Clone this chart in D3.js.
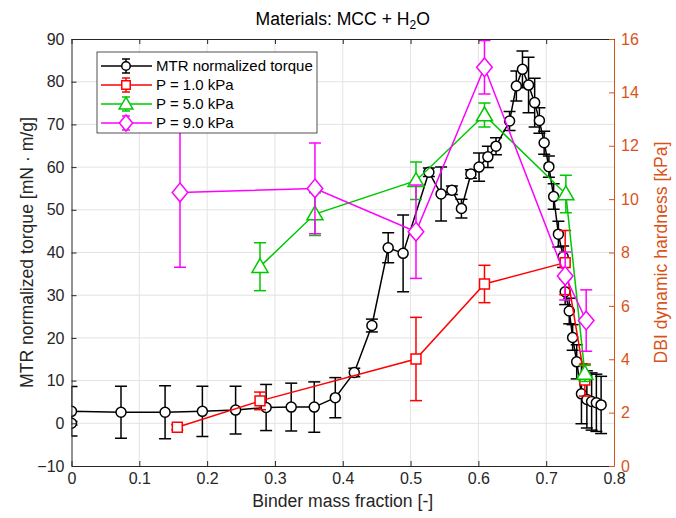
<!DOCTYPE html>
<html>
<head>
<meta charset="utf-8">
<script src="https://cdn.jsdelivr.net/npm/d3@7"></script>
<style>
  html, body { margin: 0; padding: 0; background: #fff; }
  svg { display: block; font-family: "Liberation Sans", Arial, Helvetica, sans-serif; }
</style>
</head>
<body>
<svg id="chart" width="676" height="518"></svg>
<script>
// ---------------- DATA ----------------
const xTicks = [0, 0.1, 0.2, 0.3, 0.4, 0.5, 0.6, 0.7, 0.8];
const leftTicks = [-10, 0, 10, 20, 30, 40, 50, 60, 70, 80, 90];
const rightTicks = [0, 2, 4, 6, 8, 10, 12, 14, 16];

const mtrX = [0, 0, 0.073, 0.138, 0.193, 0.242, 0.287, 0.324, 0.358, 0.389, 0.417, 0.443, 0.467, 0.489,
  0.527, 0.545, 0.561, 0.575, 0.589, 0.601, 0.614, 0.626, 0.646, 0.656, 0.665, 0.674, 0.683, 0.690,
  0.697, 0.704, 0.711, 0.718, 0.725, 0.728, 0.734, 0.739, 0.745, 0.752, 0.760, 0.767, 0.774, 0.781];
const mtrY = [0, 2.8, 2.6, 2.6, 2.8, 3.1, 3.7, 3.8, 3.8, 6.0, 11.9, 22.9, 41.1, 39.8,
  58.8, 53.7, 54.6, 50.3, 58.4, 60.0, 62.4, 64.9, 70.8, 79.0, 82.9, 79.2, 75.1, 70.9,
  65.7, 60.1, 53.1, 44.3, 39.0, 30.8, 26.3, 20.1, 14.4, 6.9, 5.6, 5.1, 4.8, 4.3];
const mtrErr = [0.4, 5.8, 6.1, 6.2, 5.9, 5.6, 5.4, 5.6, 5.9, 4.7, 1.0, 1.5, 3.5, 9.0,
  1.0, 6.3, 1.0, 2.2, 1.0, 3.3, 2.5, 2.0, 2.2, 3.5, 4.3, 6.5, 5.7, 3.0,
  2.7, 2.5, 3.0, 3.0, 2.5, 3.0, 3.0, 3.0, 4.0, 7.0, 6.7, 6.7, 6.7, 6.7];

const p1X = [0.156, 0.278, 0.508, 0.609, 0.728, 0.757];
const p1Y = [1.45, 2.44, 4.01, 6.82, 7.62, 3.22];
const p1Err = [0.1, 0.33, 1.56, 0.7, 1.2, 0.6];

const p5X = [0.278, 0.359, 0.508, 0.609, 0.729, 0.757];
const p5Y = [7.47, 9.44, 10.69, 13.15, 10.19, 3.47];
const p5Err = [0.9, 0.8, 0.7, 0.45, 0.7, 0.3];

const p9X = [0.16, 0.359, 0.508, 0.609, 0.728, 0.759];
const p9Y = [10.25, 10.4, 8.78, 14.94, 7.12, 5.45];
const p9Err = [2.8, 1.7, 1.75, 1.0, 0.9, 1.15];

const seriesNames = ["MTR normalized torque", "P = 1.0 kPa", "P = 5.0 kPa", "P = 9.0 kPa"];
const seriesColors = ["#000000", "#ff0000", "#00c800", "#ff00ff"];
const seriesMarkers = ["circle", "square", "triangle", "diamond"];

// ---------------- LAYOUT ----------------
const svg = d3.select("#chart");
const L = 71.5, R = 614, T = 39, B = 466;
const axisColor = "#262626";
const rightColor = "#d95319";

const x = d3.scaleLinear().domain([0, 0.8]).range([L, R]);
const yL = d3.scaleLinear().domain([-10, 90]).range([B, T]);
const yR = d3.scaleLinear().domain([0, 16]).range([B, T]);

// grid
const grid = svg.append("g");
grid.selectAll("line.gx").data(xTicks.slice(1, -1)).join("line")
  .attr("x1", d => x(d)).attr("x2", d => x(d)).attr("y1", T).attr("y2", B)
  .attr("stroke", "#e3e3e3").attr("stroke-width", 1);
grid.selectAll("line.gy").data(leftTicks.slice(1, -1)).join("line")
  .attr("x1", L).attr("x2", R).attr("y1", d => yL(d)).attr("y2", d => yL(d))
  .attr("stroke", "#e3e3e3").attr("stroke-width", 1);

// clip
svg.append("clipPath").attr("id", "clip").append("rect")
  .attr("x", L).attr("y", T).attr("width", R - L).attr("height", B - T);

const plot = svg.append("g").attr("clip-path", "url(#clip)");

function markerPath(type, size) {
  const s = size;
  if (type === "circle") return d3.symbol().type(d3.symbolCircle).size(Math.PI * s * s / 4)();
  if (type === "square") { const h = s / 2 * 0.9; return `M${-h},${-h}H${h}V${h}H${-h}Z`; }
  if (type === "triangle") { const h = s * 0.62; return `M0,${-h}L${h * 1.0},${h * 0.72}L${-h * 1.0},${h * 0.72}Z`; }
  if (type === "diamond") { const w = s * 0.6, h = s * 0.72; return `M0,${-h}L${w},0L0,${h}L${-w},0Z`; }
}

function drawSeries(xs, ys, es, yScale, color, marker, msize) {
  const g = plot.append("g");
  const data = xs.map((v, i) => ({ x: v, y: ys[i], e: es[i] }));
  const line = d3.line().x(d => x(d.x)).y(d => yScale(d.y));
  g.append("path").datum(data).attr("d", line)
    .attr("fill", "none").attr("stroke", color).attr("stroke-width", 1.5);
  const cap = 6;
  const eb = g.selectAll("g.eb").data(data).join("g");
  eb.append("line").attr("x1", d => x(d.x)).attr("x2", d => x(d.x))
    .attr("y1", d => yScale(d.y - d.e)).attr("y2", d => yScale(d.y + d.e))
    .attr("stroke", color).attr("stroke-width", 1.5);
  eb.append("line").attr("x1", d => x(d.x) - cap).attr("x2", d => x(d.x) + cap)
    .attr("y1", d => yScale(d.y - d.e)).attr("y2", d => yScale(d.y - d.e))
    .attr("stroke", color).attr("stroke-width", 1.5);
  eb.append("line").attr("x1", d => x(d.x) - cap).attr("x2", d => x(d.x) + cap)
    .attr("y1", d => yScale(d.y + d.e)).attr("y2", d => yScale(d.y + d.e))
    .attr("stroke", color).attr("stroke-width", 1.5);
  g.selectAll("path.m").data(data).join("path")
    .attr("d", markerPath(marker, msize))
    .attr("transform", d => `translate(${x(d.x)},${yScale(d.y)})`)
    .attr("fill", "#fff").attr("stroke", color).attr("stroke-width", 1.5);
}

drawSeries(mtrX, mtrY, mtrErr, yL, seriesColors[0], seriesMarkers[0], 10);
drawSeries(p1X, p1Y, p1Err, yR, seriesColors[1], seriesMarkers[1], 11);
drawSeries(p5X, p5Y, p5Err, yR, seriesColors[2], seriesMarkers[2], 13);
drawSeries(p9X, p9Y, p9Err, yR, seriesColors[3], seriesMarkers[3], 13);

// axes
const fs = "16px";
const ff = "Liberation Sans, Arial, sans-serif";
const xAxis = d3.axisBottom(x).tickValues(xTicks).tickFormat(d3.format("")).tickSizeInner(-5).tickSizeOuter(0).tickPadding(7);
const gx = svg.append("g").attr("transform", `translate(0,${B})`).call(xAxis);
gx.selectAll("text").attr("font-size", fs).attr("fill", axisColor).attr("font-family", ff);
gx.selectAll("line").attr("stroke", axisColor);
gx.select(".domain").attr("stroke", axisColor);

const xTop = d3.axisTop(x).tickValues(xTicks).tickFormat("").tickSizeInner(-5).tickSizeOuter(0);
const gxt = svg.append("g").attr("transform", `translate(0,${T})`).call(xTop);
gxt.selectAll("line").attr("stroke", axisColor);
gxt.select(".domain").attr("stroke", axisColor);

const yAxisL = d3.axisLeft(yL).tickValues(leftTicks).tickSizeInner(-5).tickSizeOuter(0).tickPadding(7);
const gyl = svg.append("g").attr("transform", `translate(${L},0)`).call(yAxisL);
gyl.selectAll("text").attr("font-size", fs).attr("fill", axisColor).attr("font-family", ff);
gyl.selectAll("line").attr("stroke", axisColor);
gyl.select(".domain").attr("stroke", axisColor);

const yAxisR = d3.axisRight(yR).tickValues(rightTicks).tickSizeInner(-5).tickSizeOuter(0).tickPadding(7);
const gyr = svg.append("g").attr("transform", `translate(${R},0)`).call(yAxisR);
gyr.selectAll("text").attr("font-size", fs).attr("fill", rightColor).attr("font-family", ff);
gyr.selectAll("line").attr("stroke", rightColor);
gyr.select(".domain").attr("stroke", rightColor);

// labels
const lfs = "17.6px";
svg.append("text").attr("x", (L + R) / 2).attr("y", 507).attr("text-anchor", "middle")
  .attr("font-size", lfs).attr("fill", axisColor).text("Binder mass fraction [-]");
svg.append("text").attr("transform", `translate(27,${(T + B) / 2}) rotate(-90)`).attr("text-anchor", "middle")
  .attr("dy", "0.35em").attr("font-size", lfs).attr("fill", axisColor).text("MTR normalized torque [mN · m/g]");
svg.append("text").attr("transform", `translate(661,${(T + B) / 2}) rotate(-90)`).attr("text-anchor", "middle")
  .attr("dy", "0.35em").attr("font-size", lfs).attr("fill", rightColor).text("DBI dynamic hardness [kPa]");

const title = svg.append("text").attr("x", (L + R) / 2).attr("y", 25).attr("text-anchor", "middle")
  .attr("font-size", lfs).attr("fill", "#000");
title.append("tspan").text("Materials: MCC + H");
title.append("tspan").attr("font-size", "12px").attr("dy", 4).text("2");
title.append("tspan").attr("dy", -4).text("O");

// legend
const lg = svg.append("g");
lg.append("rect").attr("x", 97).attr("y", 52).attr("width", 220).attr("height", 81)
  .attr("fill", "#fff").attr("stroke", axisColor).attr("stroke-width", 0.8);
const legendY = [66, 85, 104, 123];
const legendSizes = [10, 11, 13, 13];
seriesNames.forEach((name, i) => {
  const yy = legendY[i], c = seriesColors[i];
  lg.append("line").attr("x1", 101).attr("x2", 152).attr("y1", yy).attr("y2", yy).attr("stroke", c).attr("stroke-width", 1.5);
  lg.append("line").attr("x1", 126).attr("x2", 126).attr("y1", yy - 7).attr("y2", yy + 7).attr("stroke", c).attr("stroke-width", 1.5);
  lg.append("line").attr("x1", 122).attr("x2", 130).attr("y1", yy - 7).attr("y2", yy - 7).attr("stroke", c).attr("stroke-width", 1.5);
  lg.append("line").attr("x1", 122).attr("x2", 130).attr("y1", yy + 7).attr("y2", yy + 7).attr("stroke", c).attr("stroke-width", 1.5);
  lg.append("path").attr("d", markerPath(seriesMarkers[i], legendSizes[i] * 0.85))
    .attr("transform", `translate(126,${yy})`).attr("fill", "#fff").attr("stroke", c).attr("stroke-width", 1.5);
  lg.append("text").attr("x", 156).attr("y", yy).attr("dy", "0.35em").attr("font-size", "15px")
    .attr("fill", "#000").text(name);
});
</script>
</body>
</html>
